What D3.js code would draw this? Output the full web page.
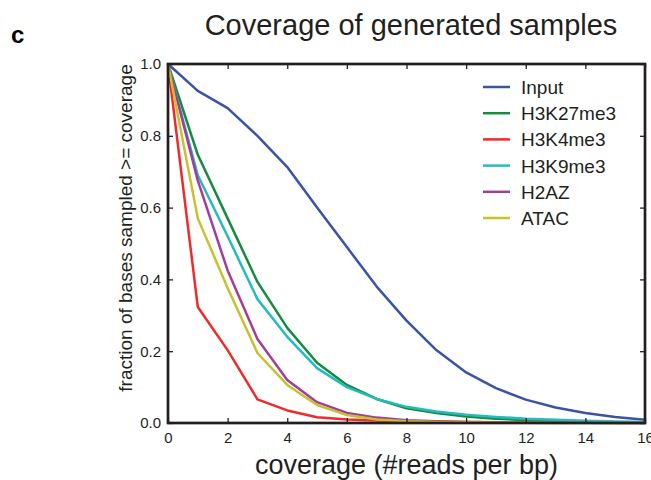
<!DOCTYPE html>
<html>
<head>
<meta charset="utf-8">
<script src="https://cdn.jsdelivr.net/npm/d3@7"></script>
<style>
  body { margin: 0; background: #fff; }
  text { font-family: "Liberation Sans", Arial, Helvetica, sans-serif; fill: #231f20; }
</style>
</head>
<body>
<script>
/* ----------- data ------------ */
var coverage = [0, 1, 2, 3, 4, 5, 6, 7, 8, 9, 10, 11, 12, 13, 14, 15, 16];
var seriesNames = ['Input', 'H3K27me3', 'H3K4me3', 'H3K9me3', 'H2AZ', 'ATAC'];
var seriesColors = ['#3a53a4', '#178a3e', '#ee2a2a', '#22bcbf', '#a33d9d', '#c6c22e'];

var input    = [1.0, 0.925, 0.877, 0.80, 0.713, 0.60, 0.49, 0.38, 0.285, 0.203, 0.141, 0.097, 0.065, 0.043, 0.028, 0.017, 0.009];
var h3k27me3 = [1.0, 0.747, 0.57, 0.393, 0.265, 0.168, 0.106, 0.067, 0.041, 0.028, 0.018, 0.012, 0.008, 0.005, 0.003, 0.002, 0.001];
var h3k4me3  = [1.0, 0.323, 0.203, 0.066, 0.035, 0.016, 0.01, 0.007, 0.005, 0.004, 0.003, 0.002, 0.002, 0.001, 0.001, 0.001, 0.001];
var h3k9me3  = [1.0, 0.69, 0.52, 0.345, 0.24, 0.153, 0.10, 0.067, 0.045, 0.032, 0.023, 0.017, 0.012, 0.009, 0.006, 0.004, 0.003];
var h2az     = [1.0, 0.675, 0.425, 0.234, 0.12, 0.058, 0.028, 0.015, 0.008, 0.005, 0.003, 0.002, 0.001, 0.001, 0.001, 0, 0];
var atac     = [1.0, 0.57, 0.376, 0.195, 0.106, 0.05, 0.022, 0.01, 0.005, 0.003, 0.002, 0.001, 0.001, 0, 0, 0, 0];
var seriesValues = [input, h3k27me3, h3k4me3, h3k9me3, h2az, atac];

var xTicks = [0, 2, 4, 6, 8, 10, 12, 14, 16];
var yTicks = [0.0, 0.2, 0.4, 0.6, 0.8, 1.0];

/* ----------- layout ------------ */
var w = 651;
var h = 480;
var plotLeft = 168, plotRight = 645, plotTop = 64, plotBottom = 423;

var svg = d3.select('body')
  .append('svg')
  .attr('width', w)
  .attr('height', h);

var x = d3.scaleLinear().domain([0, 16]).range([plotLeft, plotRight]);
var y = d3.scaleLinear().domain([0, 1]).range([plotBottom, plotTop]);

/* ----------- lines ------------ */
var line = d3.line()
  .x(function(d, i){ return x(coverage[i]); })
  .y(function(d){ return y(d); });

seriesValues.forEach(function(vals, k){
  svg.append('path')
    .attr('d', line(vals))
    .attr('fill', 'none')
    .attr('stroke', seriesColors[k])
    .attr('stroke-width', 2.5)
    .attr('stroke-linejoin', 'round');
});

/* ----------- axes (inward ticks on all four sides) ------------ */
var axisColor = '#231f20';

var bottomAxis = svg.append('g')
  .attr('transform', 'translate(0,' + plotBottom + ')')
  .call(d3.axisBottom(x).tickValues(xTicks).tickSize(-5).tickPadding(9).tickFormat(d3.format('d')));
var topAxis = svg.append('g')
  .attr('transform', 'translate(0,' + plotTop + ')')
  .call(d3.axisTop(x).tickValues(xTicks).tickSize(-5).tickFormat(''));
var leftAxis = svg.append('g')
  .attr('transform', 'translate(' + plotLeft + ',0)')
  .call(d3.axisLeft(y).tickValues(yTicks).tickSize(-5).tickPadding(7).tickFormat(d3.format('.1f')));
var rightAxis = svg.append('g')
  .attr('transform', 'translate(' + plotRight + ',0)')
  .call(d3.axisRight(y).tickValues(yTicks).tickSize(-5).tickFormat(''));

[bottomAxis, topAxis, leftAxis, rightAxis].forEach(function(g){
  g.select('.domain').remove();
  g.selectAll('.tick line').attr('stroke', axisColor).attr('stroke-width', 1.3);
  g.selectAll('.tick text')
    .attr('font-size', 15)
    .style('fill', axisColor);
});

svg.append('rect')
  .attr('x', plotLeft)
  .attr('y', plotTop)
  .attr('width', plotRight - plotLeft)
  .attr('height', plotBottom - plotTop)
  .attr('fill', 'none')
  .attr('stroke', axisColor)
  .attr('stroke-width', 2.7);

/* ----------- legend ------------ */
var legend = svg.append('g');
seriesNames.forEach(function(name, k){
  var ly = 87 + k * 26.2;
  legend.append('line')
    .attr('x1', 483).attr('x2', 510)
    .attr('y1', ly).attr('y2', ly)
    .attr('stroke', seriesColors[k])
    .attr('stroke-width', 2.5);
  legend.append('text')
    .attr('x', 521)
    .attr('y', ly + 7)
    .attr('font-size', 19)
    .text(name);
});

/* ----------- titles ------------ */
svg.append('text')
  .attr('x', 11)
  .attr('y', 43)
  .attr('font-size', 24)
  .attr('font-weight', 'bold')
  .style('fill', '#000')
  .text('c');

svg.append('text')
  .attr('x', 411)
  .attr('y', 35)
  .attr('text-anchor', 'middle')
  .attr('font-size', 29)
  .text('Coverage of generated samples');

svg.append('text')
  .attr('x', (plotLeft + plotRight) / 2)
  .attr('y', 474)
  .attr('text-anchor', 'middle')
  .attr('font-size', 27)
  .text('coverage (#reads per bp)');

svg.append('text')
  .attr('transform', 'translate(132,228) rotate(-90)')
  .attr('text-anchor', 'middle')
  .attr('font-size', 19)
  .text('fraction of bases sampled >= coverage');
</script>
</body>
</html>
